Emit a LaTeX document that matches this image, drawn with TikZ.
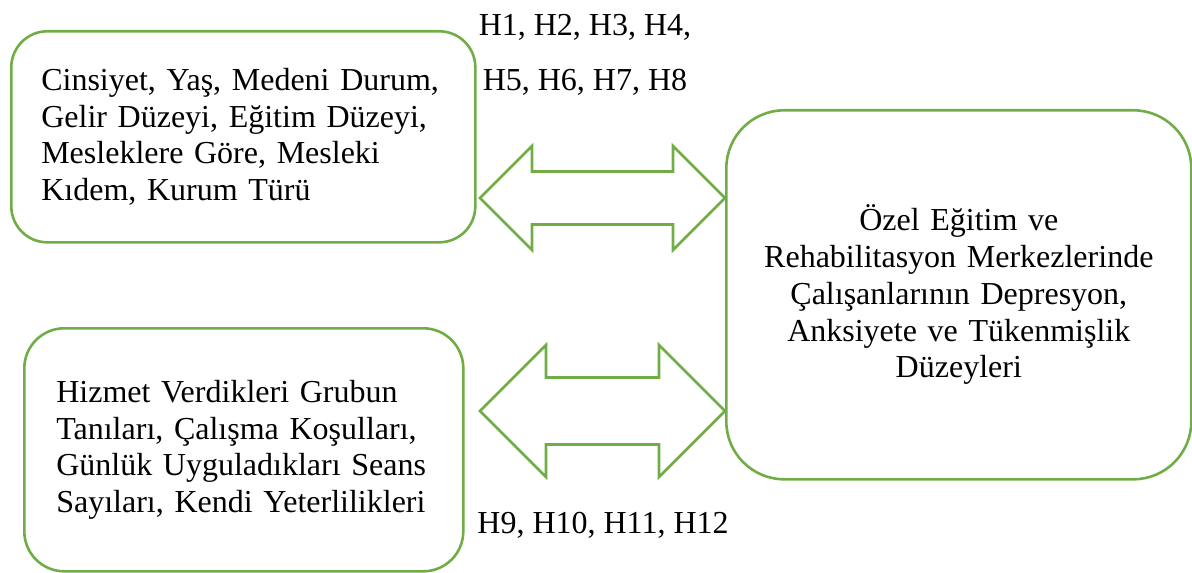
\documentclass[tikz,border=0pt]{standalone}
\usepackage{fontspec}
\setmainfont{Liberation Serif}
\definecolor{OfficeGreen}{RGB}{112, 173, 71}
\usetikzlibrary{positioning, calc}

\begin{document}
\begin{tikzpicture}[x=0.5pt, y=-0.5pt, font=\fontsize{16pt}{18.35pt}\selectfont,
  varbox/.style={draw=OfficeGreen, line width=1.3pt, anchor=north west, inner ysep=0pt, align=left},
  outbox/.style={draw=OfficeGreen, line width=1.3pt, anchor=north west, inner ysep=0pt, align=center},
  hyplabel/.style={inner sep=0pt, align=center},
  biarrow/.style={draw=OfficeGreen, line width=1.3pt, line join=miter}]
\useasboundingbox (0,0) rectangle (1192,572);
% left side: independent variables
\node[varbox, inner xsep=15pt, text width=202pt, minimum height=105.5pt, rounded corners=18pt] (demo) at (10,30)
  {Cinsiyet, Yaş, Medeni Durum,\\ Gelir Düzeyi, Eğitim Düzeyi,\\ Mesleklere Göre, Mesleki\\ Kıdem, Kurum Türü};
\node[varbox, inner xsep=16pt, text width=187.5pt, minimum height=121.5pt, rounded corners=20pt] (work) at (23,327)
  {Hizmet Verdikleri Grubun\\ Tanıları, Çalışma Koşulları,\\ Günlük Uyguladıkları Seans\\ Sayıları, Kendi Yeterlilikleri};
% right side: dependent variables
\node[outbox, inner xsep=15pt, text width=202.5pt, minimum height=184.5pt, rounded corners=29pt] (level) at (725,109)
  {Özel Eğitim ve\\ Rehabilitasyon Merkezlerinde\\ Çalışanlarının Depresyon,\\ Anksiyete ve Tükenmişlik\\ Düzeyleri};
% hypotheses
\node[hyplabel, anchor=north] (hA) at (585,14) {H1, H2, H3, H4,\\[9.15pt] H5, H6, H7, H8};
\node[hyplabel, anchor=base west] (hB) at (477,533) {H9, H10, H11, H12};
% block arrows (tip y / head length / half shaft)
\foreach \y/\h/\s in {198/52/26.5, 411/66/33.5} {
  \draw[biarrow] (480,\y) -- ++(\h,-\h) -- ++(0,\h-\s) -- (725-\h,\y-\s) -- ++(0,\s-\h)
    -- (725,\y) -- ++(-\h,\h) -- ++(0,\s-\h) -- (480+\h,\y+\s) -- ++(0,\h-\s) -- cycle;
}
\end{tikzpicture}
\end{document}
